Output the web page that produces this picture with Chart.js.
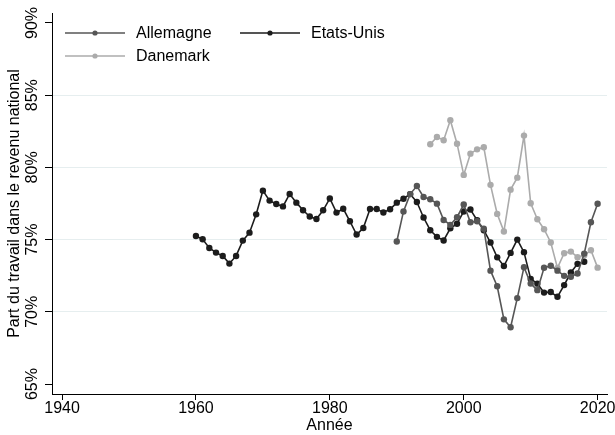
<!DOCTYPE html>
<html>
<head>
<meta charset="utf-8">
<script src="https://cdn.jsdelivr.net/npm/chart.js@4"></script>
<style>
  html, body { margin: 0; padding: 0; background: #fff; }
  #wrap { width: 615px; height: 435px; }
</style>
</head>
<body>
<div id="wrap"><canvas id="partTravailChart"></canvas></div>
<script>
// annees et parts du travail (en %)
var anneesEtatsUnis = [1960, 1961, 1962, 1963, 1964, 1965, 1966, 1967, 1968, 1969,
  1970, 1971, 1972, 1973, 1974, 1975, 1976, 1977, 1978, 1979,
  1980, 1981, 1982, 1983, 1984, 1985, 1986, 1987, 1988, 1989,
  1990, 1991, 1992, 1993, 1994, 1995, 1996, 1997, 1998, 1999,
  2000, 2001, 2002, 2003, 2004, 2005, 2006, 2007, 2008, 2009,
  2010, 2011, 2012, 2013, 2014, 2015, 2016, 2017, 2018];
var partEtatsUnis = [75.25, 75.02, 74.42, 74.10, 73.87, 73.34, 73.87, 74.93, 75.48, 76.75,
  78.39, 77.70, 77.47, 77.30, 78.16, 77.56, 77.03, 76.60, 76.43, 77.03,
  77.85, 76.87, 77.14, 76.27, 75.35, 75.80, 77.12, 77.12, 76.88, 77.10,
  77.56, 77.83, 78.15, 77.60, 76.53, 75.65, 75.19, 74.94, 75.78, 76.10,
  76.95, 77.08, 76.34, 75.65, 74.80, 73.77, 73.17, 74.08, 75.00, 74.13,
  72.28, 71.95, 71.33, 71.37, 71.04, 71.85, 72.72, 73.32, 73.47];

var anneesAllemagne = [1990, 1991, 1992, 1993, 1994, 1995, 1996, 1997, 1998, 1999,
  2000, 2001, 2002, 2003, 2004, 2005, 2006, 2007, 2008, 2009,
  2010, 2011, 2012, 2013, 2014, 2015, 2016, 2017, 2018, 2019, 2020];
var partAllemagne = [74.87, 76.95, 78.15, 78.71, 77.95, 77.79, 77.49, 76.36, 76.02, 76.55,
  77.43, 76.20, 76.27, 75.76, 72.85, 71.77, 69.48, 68.93, 70.95, 73.09,
  71.96, 71.50, 73.05, 73.19, 72.85, 72.49, 72.43, 72.65, 74.03, 76.20, 77.48];

var anneesDanemark = [1995, 1996, 1997, 1998, 1999, 2000, 2001, 2002, 2003, 2004,
  2005, 2006, 2007, 2008, 2009, 2010, 2011, 2012, 2013, 2014,
  2015, 2016, 2017, 2018, 2019, 2020];
var partDanemark = [81.60, 82.10, 81.88, 83.27, 81.64, 79.48, 80.95, 81.25, 81.39, 78.79,
  76.78, 75.56, 78.46, 79.29, 82.20, 77.52, 76.41, 75.72, 74.80, 73.04,
  74.06, 74.17, 73.78, 73.92, 74.26, 73.06];

var ticksAnnee = [1940, 1960, 1980, 2000, 2020];
var ticksPart = [65, 70, 75, 80, 85, 90];

function toPoints(xs, ys) {
  return xs.map(function (x, i) { return { x: x, y: ys[i] }; });
}

var FONT = "'Liberation Sans', Arial, Helvetica, sans-serif";

// legende dessinee dans la zone du graphique, sans cadre
var legendeStata = {
  id: "legendeStata",
  afterDraw: function (chart) {
    var ctx = chart.ctx;
    var places = [
      { x: 65, y: 33 },
      { x: 240, y: 33 },
      { x: 65, y: 56 }
    ];
    ctx.save();
    ctx.font = "16px " + FONT;
    ctx.textBaseline = "middle";
    ctx.textAlign = "left";
    chart.data.datasets.forEach(function (ds, i) {
      var p = places[i];
      ctx.strokeStyle = ds.borderColor;
      ctx.lineWidth = ds.borderWidth;
      ctx.beginPath();
      ctx.moveTo(p.x, p.y);
      ctx.lineTo(p.x + 60, p.y);
      ctx.stroke();
      ctx.fillStyle = ds.pointBackgroundColor;
      ctx.beginPath();
      ctx.arc(p.x + 30, p.y, 2.6, 0, Math.PI * 2);
      ctx.fill();
      ctx.fillStyle = "#000";
      ctx.fillText(ds.label, p.x + 71, p.y + 1);
    });
    ctx.restore();
  }
};

var serie = function (label, color, xs, ys) {
  return {
    label: label,
    data: toPoints(xs, ys),
    borderColor: color,
    backgroundColor: color,
    pointBackgroundColor: color,
    pointBorderWidth: 0,
    pointRadius: 3.2,
    borderWidth: 1.6,
    tension: 0
  };
};

new Chart(document.getElementById("partTravailChart").getContext("2d"), {
  type: "line",
  data: {
    datasets: [
      serie("Allemagne", "#565656", anneesAllemagne, partAllemagne),
      serie("Etats-Unis", "#1c1c1c", anneesEtatsUnis, partEtatsUnis),
      serie("Danemark", "#ababab", anneesDanemark, partDanemark)
    ]
  },
  options: {
    responsive: true,
    maintainAspectRatio: false,
    animation: false,
    layout: { padding: { top: 13, right: 8, left: 0, bottom: 0 } },
    plugins: {
      legend: { display: false },
      tooltip: { enabled: false }
    },
    scales: {
      x: {
        type: "linear",
        min: 1938.5,
        max: 2021.4,
        afterBuildTicks: function (scale) {
          scale.ticks = ticksAnnee.map(function (v) { return { value: v }; });
        },
        afterFit: function (scale) { scale.height = 41; },
        grid: {
          display: true,
          drawOnChartArea: false,
          drawTicks: true,
          tickLength: 6,
          tickColor: "#000"
        },
        border: { display: true, color: "#000", width: 1 },
        ticks: {
          color: "#000",
          font: { family: FONT, size: 16 },
          padding: -1,
          maxRotation: 0,
          callback: function (v) { return String(v); }
        },
        title: {
          display: true,
          text: "Année",
          color: "#000",
          font: { family: FONT, size: 16 },
          padding: { top: 0, bottom: 0 }
        }
      },
      y: {
        type: "linear",
        min: 64.31,
        max: 90.69,
        afterBuildTicks: function (scale) {
          scale.ticks = ticksPart.map(function (v) { return { value: v }; });
        },
        afterFit: function (scale) { scale.width = 52; },
        grid: {
          display: true,
          drawTicks: true,
          tickLength: 7,
          tickColor: "#000",
          color: function (c) {
            var v = c.tick && c.tick.value;
            return (v === 65 || v === 90) ? "rgba(0,0,0,0)" : "#e6eeef";
          }
        },
        border: { display: true, color: "#000", width: 1 },
        ticks: {
          color: "#000",
          font: { family: FONT, size: 16 },
          minRotation: 90,
          maxRotation: 90,
          crossAlign: "center",
          padding: -4,
          callback: function (v) { return v + "%"; }
        },
        title: {
          display: true,
          text: "Part du travail dans le revenu national",
          color: "#000",
          font: { family: FONT, size: 16 },
          padding: { top: 5, bottom: 0 }
        }
      }
    }
  },
  plugins: [legendeStata]
});
</script>
</body>
</html>
